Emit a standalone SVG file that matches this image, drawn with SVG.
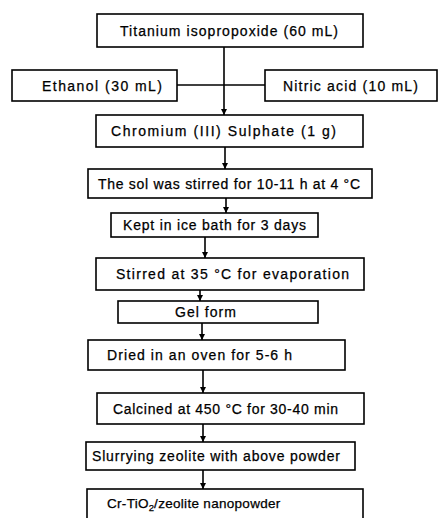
<svg xmlns="http://www.w3.org/2000/svg" width="439" height="518" viewBox="0 0 439 518">
<defs>
<marker id="ah" viewBox="0 0 10 10" refX="10" refY="5" markerWidth="7" markerHeight="6" markerUnits="userSpaceOnUse" orient="auto">
<path d="M0,0 L10,5 L0,10 z" fill="#000"/>
</marker>
<style>
rect{fill:#fff;stroke:#000;stroke-width:1.6}
text{font-family:"Liberation Sans",Arial,sans-serif;font-size:14px;fill:#000;stroke:#000;stroke-width:0.25;text-anchor:start}
.c line{stroke:#000;stroke-width:1.6;fill:none}
</style>
</defs>
<rect x="0" y="0" width="439" height="518" style="fill:#fff;stroke:none"/>
<g id="n1"><rect x="97" y="14" width="266" height="33"/><text x="120" y="35.5" textLength="218" lengthAdjust="spacing">Titanium isopropoxide (60 mL)</text></g>
<g id="n2"><rect x="12" y="70" width="165" height="31"/><text x="42" y="90.5" textLength="120" lengthAdjust="spacing">Ethanol (30 mL)</text></g>
<g id="n3"><rect x="265" y="70" width="172" height="31"/><text x="283" y="90.5" textLength="135" lengthAdjust="spacing">Nitric acid (10 mL)</text></g>
<g id="n4"><rect x="96" y="115" width="267" height="32"/><text x="111" y="136" textLength="225" lengthAdjust="spacing">Chromium (III) Sulphate (1 g)</text></g>
<g id="n5"><rect x="88" y="169" width="284" height="29"/><text x="98" y="188.5" textLength="262" lengthAdjust="spacing">The sol was stirred for 10-11 h at 4 °C</text></g>
<g id="n6"><rect x="111" y="213" width="207" height="24"/><text x="123" y="230" textLength="183" lengthAdjust="spacing">Kept in ice bath for 3 days</text></g>
<g id="n7"><rect x="96" y="258" width="268" height="32"/><text x="116" y="279" textLength="233" lengthAdjust="spacing">Stirred at 35 °C for evaporation</text></g>
<g id="n8"><rect x="118" y="301" width="200" height="22"/><text x="175" y="317" textLength="61" lengthAdjust="spacing">Gel form</text></g>
<g id="n9"><rect x="88" y="340" width="257" height="30"/><text x="107" y="360" textLength="185" lengthAdjust="spacing">Dried in an oven for 5-6 h</text></g>
<g id="n10"><rect x="97" y="393" width="267" height="31"/><text x="113" y="413.5" textLength="225" lengthAdjust="spacing">Calcined at 450 °C for 30-40 min</text></g>
<g id="n11"><rect x="86" y="442" width="269" height="28"/><text x="92" y="461" textLength="248" lengthAdjust="spacing">Slurrying zeolite with above powder</text></g>
<g id="n12"><rect x="87" y="489" width="276" height="40"/><text x="107" y="508" style="font-size:13.5px;letter-spacing:0.3px">Cr-TiO<tspan style="font-size:9.5px;letter-spacing:0" dy="3">2</tspan><tspan dy="-3">/zeolite nanopowder</tspan></text></g>
<g id="connectors" class="c">
<line x1="224" y1="47" x2="224" y2="115" marker-end="url(#ah)"/>
<line x1="177" y1="85" x2="265" y2="85"/>
<line x1="225" y1="147" x2="225" y2="169" marker-end="url(#ah)"/>
<line x1="226" y1="198" x2="226" y2="213" marker-end="url(#ah)"/>
<line x1="205" y1="237" x2="205" y2="258" marker-end="url(#ah)"/>
<line x1="200" y1="290" x2="200" y2="301" marker-end="url(#ah)"/>
<line x1="202" y1="323" x2="202" y2="340" marker-end="url(#ah)"/>
<line x1="203" y1="370" x2="203" y2="393" marker-end="url(#ah)"/>
<line x1="203" y1="424" x2="203" y2="442" marker-end="url(#ah)"/>
<line x1="203" y1="470" x2="203" y2="489" marker-end="url(#ah)"/>
</g>
</svg>
